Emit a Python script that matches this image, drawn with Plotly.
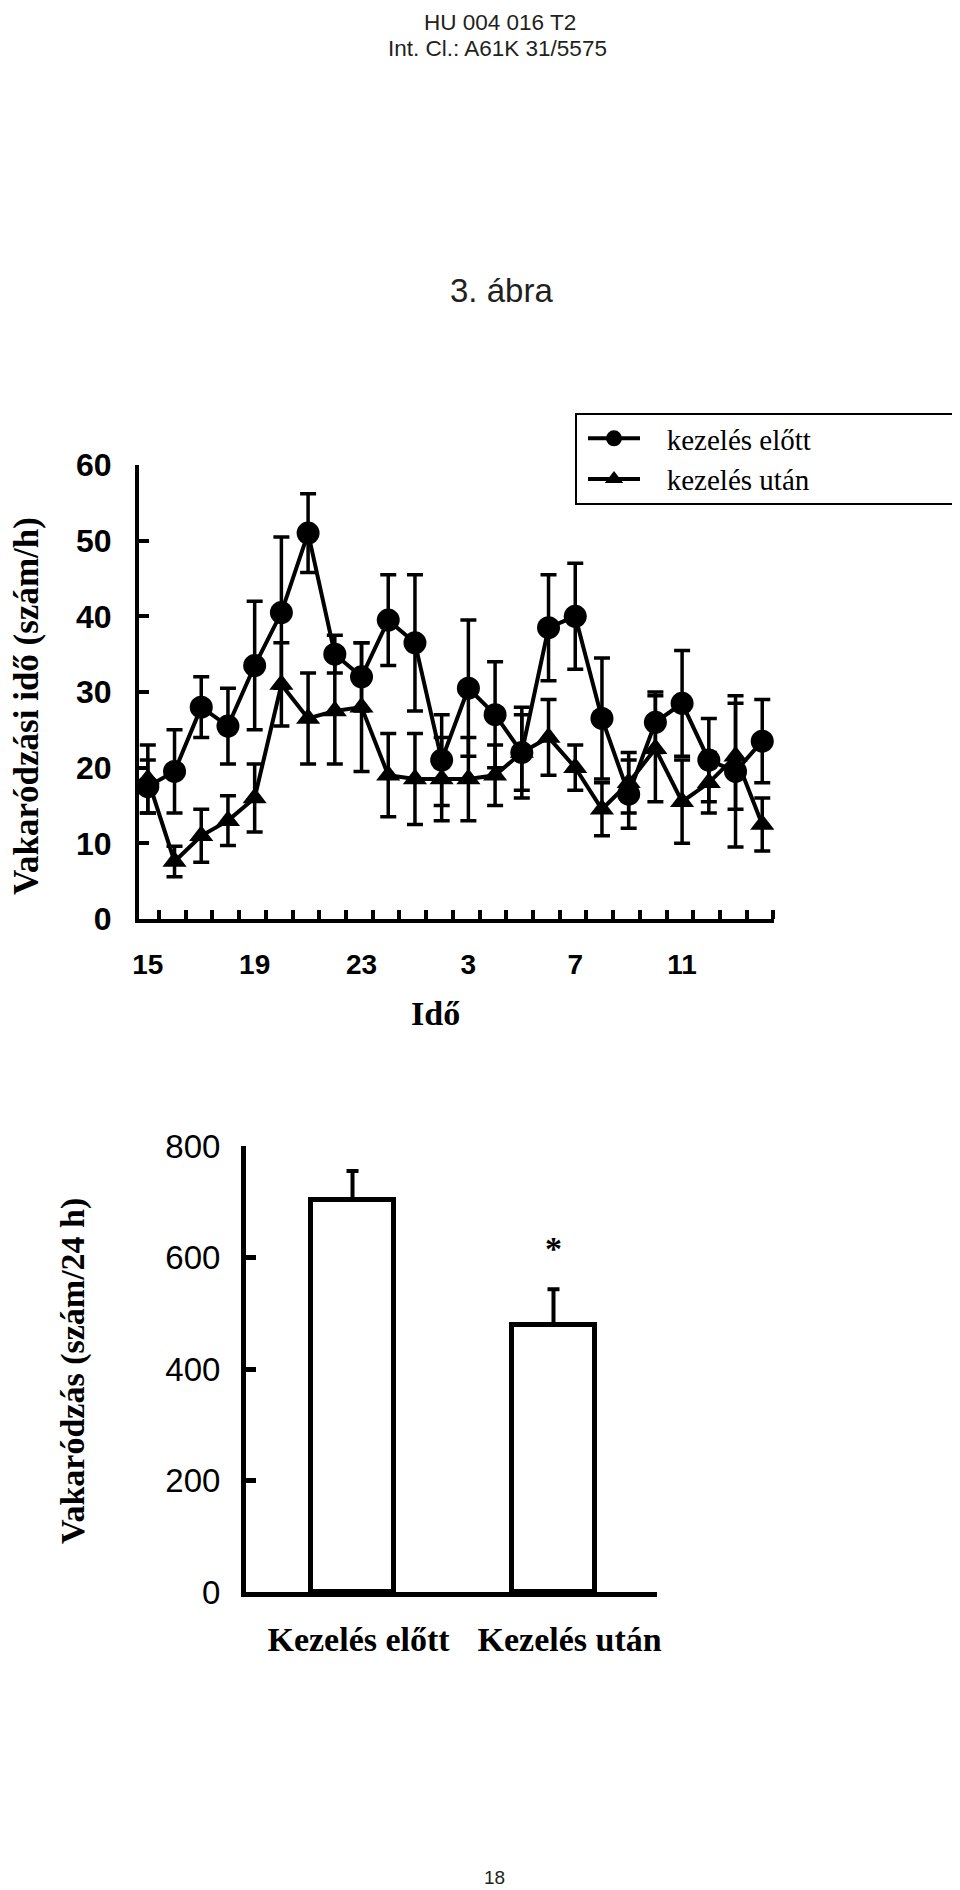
import plotly.graph_objects as go

W, H = 960, 1890

# ---------------- data: top chart (hourly scratching time) ----------------
hours = [15, 16, 17, 18, 19, 20, 21, 22, 23, 0, 1, 2, 3, 4, 5, 6, 7, 8, 9, 10, 11, 12, 13, 14]
before_mean = [17.5, 19.5, 28, 25.5, 33.5, 40.5, 51, 35, 32, 39.5, 36.5, 21,
               30.5, 27, 22, 38.5, 40, 26.5, 16.5, 26, 28.5, 21, 19.5, 23.5]
before_err = [3.5, 5.5, 4, 5, 8.5, 10, 5.2, 2.5, 4.5, 6, 9, 6,
              9, 7, 6, 7, 7, 8, 4.5, 4, 7, 5.5, 10, 5.5]
after_mean = [18.5, 7.6, 11, 13, 16, 31, 26.5, 27.5, 28, 19, 18.5, 18.5,
              18.5, 19, 22, 24, 20, 14.5, 18, 22.5, 15.5, 18, 21.5, 12.5]
after_err = [4.5, 2, 3.5, 3.3, 4.5, 5.5, 6, 7, 8.5, 5.5, 6, 5.5,
             5.5, 4, 5, 5, 3, 3.5, 4, 7, 5.5, 4, 7, 3.5]
series_names = ["kezelés előtt", "kezelés után"]
y_ticks_top = [0, 10, 20, 30, 40, 50, 60]

# ---------------- data: bottom chart (24 h totals) ----------------
bar_labels = ["Kezelés előtt", "Kezelés után"]
bar_values = [703, 479]
bar_err = [52, 64]
bar_sig = ["", "*"]
y_ticks_bar = [0, 200, 400, 600, 800]

idx = list(range(len(hours)))
label_every = 4

OFF = 8  # calibration shift between layout pixels and the reference picture


def py(v):  # reference pixel-from-top -> paper fraction
    return 1 - (v - OFF) / H


def px(v):
    return (v - OFF) / W


NBSP = "\u00a0"

fig = go.Figure()

fig.add_trace(go.Scatter(
    x=idx, y=before_mean, name=NBSP * 3 + series_names[0], mode="lines+markers",
    line=dict(color="black", width=4),
    marker=dict(symbol="circle", size=23, color="black"),
    error_y=dict(type="data", array=before_err, color="black", thickness=3.5, width=8),
    xaxis="x", yaxis="y"))
fig.add_trace(go.Scatter(
    x=idx, y=after_mean, name=NBSP * 3 + series_names[1], mode="lines+markers",
    line=dict(color="black", width=4),
    marker=dict(symbol="triangle-up", size=21, color="black"),
    error_y=dict(type="data", array=after_err, color="black", thickness=3.5, width=8),
    xaxis="x", yaxis="y"))

fig.add_trace(go.Bar(
    x=[0, 1], y=bar_values, width=0.41, showlegend=False,
    marker=dict(color="white", line=dict(color="black", width=5)),
    error_y=dict(type="data", array=bar_err, arrayminus=[0, 0], symmetric=False,
                 color="black", thickness=4, width=6),
    xaxis="x2", yaxis="y2"))

tick_font_top_y = dict(family="Liberation Sans, Arial", size=32, color="black", weight="bold")
tick_font_top_x = dict(family="Liberation Sans, Arial", size=28, color="black", weight="bold")
serif_bold = dict(family="Liberation Serif, Times New Roman", color="black", weight="bold")

fig.update_layout(
    width=W, height=H, margin=dict(l=0, r=0, t=0, b=0, autoexpand=False),
    paper_bgcolor="white", plot_bgcolor="white",
    showlegend=True,
    legend=dict(x=px(583), y=py(413), xanchor="left", yanchor="top",
                font=dict(family="Liberation Serif, Times New Roman", size=29, color="black"),
                bgcolor="rgba(0,0,0,0)", borderwidth=0, itemwidth=52,
                tracegroupgap=0, itemsizing="trace"),
    xaxis=dict(domain=[px(139), px(774)], range=[-0.33, 23.44],
               showline=True, linecolor="black", linewidth=4, mirror=False,
               showgrid=False, zeroline=False,
               tickmode="array", tickvals=idx[::label_every],
               ticktext=[str(h) for h in hours[::label_every]],
               ticks="", tickfont=tick_font_top_x, ticklabelstandoff=17,
               minor=dict(tickmode="array", tickvals=[i + 0.42 for i in idx],
                          ticks="inside", ticklen=9, tickwidth=4, tickcolor="black"),
               anchor="y"),
    yaxis=dict(domain=[py(919), py(465)], range=[0, 60],
               showline=True, linecolor="black", linewidth=4,
               showgrid=False, zeroline=False,
               tickmode="array", tickvals=y_ticks_top,
               ticks="inside", ticklen=10, tickwidth=4, tickcolor="black",
               tickfont=tick_font_top_y, ticklabelstandoff=17, anchor="x"),
    xaxis2=dict(domain=[px(246), px(657)], range=[-0.53, 1.515],
                showline=True, linecolor="black", linewidth=5,
                showgrid=False, zeroline=False,
                tickmode="array", tickvals=[0.03, 1.08], ticktext=bar_labels, ticks="",
                tickfont=dict(size=34, **serif_bold),
                ticklabelstandoff=13, anchor="y2"),
    yaxis2=dict(domain=[py(1592), py(1146)], range=[0, 800],
                showline=True, linecolor="black", linewidth=5,
                showgrid=False, zeroline=False,
                tickmode="array", tickvals=y_ticks_bar,
                ticks="inside", ticklen=10, tickwidth=5, tickcolor="black",
                tickfont=dict(family="Liberation Sans, Arial", size=33, color="black"),
                ticklabelstandoff=14, anchor="x2"),
    bargap=0,
)

# legend frame
fig.add_shape(type="rect", xref="paper", yref="paper",
              x0=px(576), x1=px(955), y0=py(504), y1=py(414),
              line=dict(color="black", width=2))

hdr = dict(family="Liberation Sans, Arial", color="#231f20")
annos = [
    dict(text="HU 004 016 T2", x=px(500), y=py(22), font=dict(size=22.5, **hdr)),
    dict(text="Int. Cl.: A61K 31/5575", x=px(498), y=py(49), font=dict(size=22.5, **hdr)),
    dict(text="3. ábra", x=px(502), y=py(290), font=dict(size=33, **hdr)),
    dict(text="18", x=px(494), y=py(1877), font=dict(size=19, **hdr)),
    dict(text="Vakaródzási idő (szám/h)", x=px(27), y=py(706), textangle=-90,
         font=dict(size=35, **serif_bold)),
    dict(text="Idő", x=px(435), y=py(1013), font=dict(size=34, **serif_bold)),
    dict(text="Vakaródzás (szám/24 h)", x=px(73), y=py(1371), textangle=-90,
         font=dict(size=34, **serif_bold)),
]
for a in annos:
    fig.add_annotation(xref="paper", yref="paper", showarrow=False,
                       xanchor="center", yanchor="middle", **a)

# significance mark above the second bar
for i, s in enumerate(bar_sig):
    if s:
        fig.add_annotation(x=i, y=bar_values[i] + bar_err[i], xref="x2", yref="y2",
                           text=s, showarrow=False, yanchor="bottom", yshift=20,
                           font=dict(size=34, **serif_bold))

fig.write_html("out.html")
